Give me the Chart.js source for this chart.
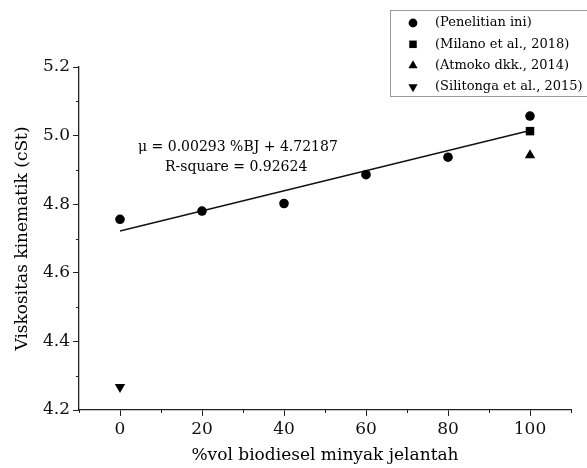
<!DOCTYPE html>
<html>
<head>
<meta charset="utf-8">
<script src="https://cdn.jsdelivr.net/npm/chart.js@4.4.1/dist/chart.umd.min.js"></script>
<style>
  html, body { margin: 0; padding: 0; background: #fff; }
  #wrap { width: 587px; height: 468px; position: relative; }
</style>
</head>
<body>
<div id="wrap"><canvas id="viscChart"></canvas></div>
<script>
// data
const blendPct = [0, 20, 40, 60, 80, 100];
const viscThisWork = [4.756, 4.780, 4.802, 4.886, 4.937, 5.057];
const milanoX = [100];
const milanoY = [5.013];
const atmokoX = [100];
const atmokoY = [4.943];
const silitongaX = [0];
const silitongaY = [4.267];
const fitSlope = 0.00293;
const fitIntercept = 4.72187;
const fitRange = [0, 100];
const xTickLabels = [0, 20, 40, 60, 80, 100];
const yTickLabels = [4.2, 4.4, 4.6, 4.8, 5.0, 5.2];
const legendLabels = ['(Penelitian ini)', '(Milano et al., 2018)', '(Atmoko dkk., 2014)', '(Silitonga et al., 2015)'];

const FONT = "'DejaVu Serif', serif";

function pts(xs, ys) {
   return xs.map((x, i) => ({ x: x, y: ys[i] }));
}

const isLabelled = (list, v) => list.some(t => Math.abs(t - v) < 1e-6);

// minor ticks, equation text and the boxed legend
const extras = {
   id: 'extras',
   afterDraw(chart) {
      const ctx = chart.ctx;
      const xs = chart.scales.x, ys = chart.scales.y;
      ctx.save();
      ctx.strokeStyle = '#222';
      ctx.lineWidth = 1;
      ctx.beginPath();
      xs.ticks.forEach(t => {
         if (isLabelled(xTickLabels, t.value)) return;
         const px = Math.round(xs.getPixelForValue(t.value)) + 0.5;
         ctx.moveTo(px, ys.bottom);
         ctx.lineTo(px, ys.bottom + 3);
      });
      ys.ticks.forEach(t => {
         if (isLabelled(yTickLabels, t.value)) return;
         const py = Math.round(ys.getPixelForValue(t.value)) + 0.5;
         ctx.moveTo(xs.left, py);
         ctx.lineTo(xs.left - 3, py);
      });
      ctx.stroke();

      // fit equation
      ctx.fillStyle = '#000';
      ctx.font = '14px ' + FONT;
      ctx.textBaseline = 'middle';
      ctx.textAlign = 'left';
      ctx.fillText('\u03bc = 0.00293 %BJ + 4.72187', 138, 147);
      ctx.fillText('R-square = 0.92624', 165, 167);

      // legend
      ctx.fillStyle = '#fff';
      ctx.fillRect(390.5, 10.5, 200, 86);
      ctx.strokeStyle = '#999';
      ctx.strokeRect(390.5, 10.5, 200, 86);
      ctx.font = '13px ' + FONT;
      const legendRadius = { circle: 4.4, rect: 5.3, triangle: 5.3 };
      chart.data.datasets.forEach((ds, i) => {
         if (ds.type === 'line') return;
         const y = 23 + i * 21.3;
         ctx.fillStyle = '#000';
         ctx.strokeStyle = '#000';
         Chart.helpers.drawPoint(ctx, {
            pointStyle: ds.pointStyle,
            rotation: ds.pointRotation || 0,
            radius: legendRadius[ds.pointStyle],
            borderWidth: 0
         }, 413, y);
         ctx.fillStyle = '#000';
         ctx.fillText(legendLabels[i], 435, y);
      });
      ctx.restore();
   }
};

const ctx = document.getElementById('viscChart');
new Chart(ctx, {
   type: 'scatter',
   data: {
      datasets: [
         { data: pts(blendPct, viscThisWork), pointStyle: 'circle', pointRadius: 4.8, backgroundColor: '#000', borderWidth: 0, order: 1 },
         { data: pts(milanoX, milanoY), pointStyle: 'rect', pointRadius: 6, backgroundColor: '#000', borderWidth: 0, order: 1 },
         { data: pts(atmokoX, atmokoY), pointStyle: 'triangle', pointRadius: 6, backgroundColor: '#000', borderWidth: 0, order: 1 },
         { data: pts(silitongaX, silitongaY), pointStyle: 'triangle', pointRotation: 180, pointRadius: 6, backgroundColor: '#000', borderWidth: 0, order: 1 },
         {
            type: 'line',
            data: fitRange.map(x => ({ x: x, y: fitSlope * x + fitIntercept })),
            borderColor: '#111', borderWidth: 1.3, pointRadius: 0, fill: false, order: 2
         }
      ]
   },
   options: {
      responsive: true,
      maintainAspectRatio: false,
      animation: false,
      layout: { padding: { top: 67, right: 16, left: 0, bottom: 0 } },
      plugins: { legend: { display: false }, tooltip: { enabled: false } },
      scales: {
         x: {
            type: 'linear', min: -10, max: 110,
            afterFit: s => { s.height = 58; },
            ticks: {
               stepSize: 10, color: '#111', padding: 3, autoSkip: false, maxRotation: 0,
               font: { family: FONT, size: 17 },
               callback: v => isLabelled(xTickLabels, v) ? String(v) : ''
            },
            grid: {
               drawOnChartArea: false, tickLength: 6, tickWidth: 1,
               tickColor: c => isLabelled(xTickLabels, c.tick.value) ? '#222' : 'rgba(0,0,0,0)'
            },
            border: { display: true, color: '#222', width: 1.3 },
            title: {
               display: true, text: '%vol biodiesel minyak jelantah', color: '#000',
               font: { family: FONT, size: 17 }, padding: { top: 0, bottom: 2 }
            }
         },
         y: {
            type: 'linear', min: 4.2, max: 5.2,
            afterFit: s => { s.width = 79; },
            ticks: {
               stepSize: 0.1, color: '#111', padding: 3, autoSkip: false,
               font: { family: FONT, size: 17 },
               callback: v => isLabelled(yTickLabels, v) ? v.toFixed(1) : ''
            },
            grid: {
               drawOnChartArea: false, tickLength: 6, tickWidth: 1,
               tickColor: c => isLabelled(yTickLabels, c.tick.value) ? '#222' : 'rgba(0,0,0,0)'
            },
            border: { display: true, color: '#222', width: 1.3 },
            title: {
               display: true, text: 'Viskositas kinematik (cSt)', color: '#000',
               font: { family: FONT, size: 17 }, padding: { top: 12, bottom: 0 }
            }
         }
      }
   },
   plugins: [extras]
});
</script>
</body>
</html>
